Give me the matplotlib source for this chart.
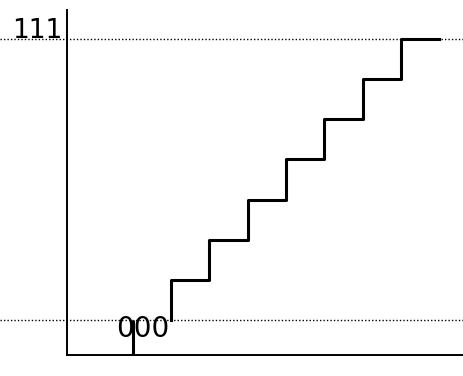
import matplotlib.pyplot as plt

# staircase levels (one per 3-bit code) and step edges
codes = ['000', '001', '010', '011', '100', '101', '110', '111']
levels = [0, 1, 2, 3, 4, 5, 6, 7]
edges = [0, 1, 2, 3, 4, 5, 6, 7, 8]

fig = plt.figure(figsize=(4.63, 3.76), dpi=100)
ax = fig.add_axes([0.1447, 0.0559, 0.855, 0.9176])

ax.set_xlim(-1.72, 8.62)
ax.set_ylim(-0.87, 7.72)

# dotted reference lines at the lowest and highest level
for lv in (levels[0], levels[-1]):
    ax.axhline(lv, xmin=-0.17, xmax=1, color='black', lw=1.0,
               linestyle=(0, (1, 1.5)), clip_on=False, zorder=1)

# staircase (the first tread is covered by the "000" label)
ax.vlines(edges[0], -0.87, levels[0], color='black', lw=2.2)
ax.step(edges[1:], levels, where='pre', color='black', lw=2.2)

ax.text(0.26, -0.42, codes[0], ha='center', va='baseline', fontsize=20)
ax.text(-1.85, 7.03, codes[-1], ha='right', va='baseline', fontsize=19,
        clip_on=False)

for s in ('top', 'right'):
    ax.spines[s].set_visible(False)
for s in ('left', 'bottom'):
    ax.spines[s].set_linewidth(1.4)
ax.set_xticks([])
ax.set_yticks([])

fig.savefig('out.png', dpi=100)
